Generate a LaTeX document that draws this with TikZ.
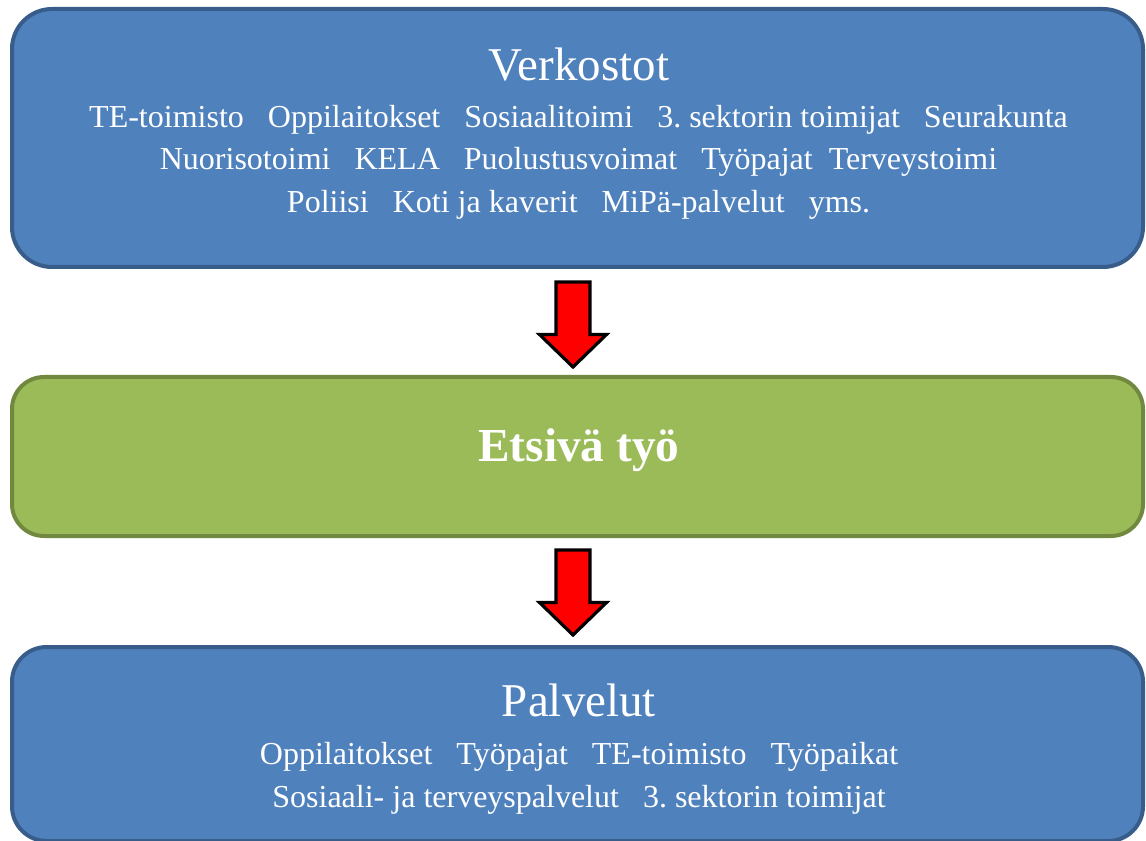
\documentclass[tikz,border=0pt]{standalone}
\usepackage{fontspec}
\setmainfont{Liberation Serif}
\frenchspacing
\usetikzlibrary{calc}
\definecolor{boxblue}{HTML}{4F81BD}
\definecolor{boxblueline}{HTML}{385D8A}
\definecolor{boxgreen}{HTML}{9BBB59}
\definecolor{boxgreenline}{HTML}{71893F}
\tikzset{
  bluebox/.style={draw=boxblueline, fill=boxblue, line width=3pt, rectangle,
    minimum width=848.25pt, inner sep=0pt},
  greenbox/.style={draw=boxgreenline, fill=boxgreen, line width=3pt, rectangle,
    minimum width=848.25pt, inner sep=0pt, rounded corners=24pt},
  titletext/.style={text=white, anchor=base, inner sep=0pt, font=\fontsize{35.25}{40}\selectfont},
  linetext/.style={text=white, anchor=base, inner sep=0pt, font=\fontsize{24}{28}\selectfont},
  blockarrow/.style={draw=black, fill=red, line width=2.4pt, miter limit=10}
}
\begin{document}
\begin{tikzpicture}[x=0.75pt,y=-0.75pt]
\useasboundingbox (0,0) rectangle (1146,841);
% boxes
\node[bluebox, rounded corners=30pt, minimum height=193.5pt] (verk) at (577.5,138) {};
\node[greenbox, minimum height=119.25pt] (ets) at (577.5,456.5) {};
\node[bluebox, rounded corners=26pt, minimum height=145.5pt] (palv) at (577.5,744) {};
% top texts
\node[titletext] (verkT) at (579,81) {Verkostot};
\node[linetext] (verkL1) at (578.5,128) {TE-toimisto~~~Oppilaitokset~~~Sosiaalitoimi~~~3. sektorin toimijat~~~Seurakunta};
\node[linetext] (verkL2) at (578.5,170) {Nuorisotoimi~~~KELA~~~Puolustusvoimat~~~Työpajat~~Terveystoimi};
\node[linetext] (verkL3) at (578.5,212.5) {Poliisi~~~Koti ja kaverit~~~MiPä-palvelut~~~yms.};
% middle
\node[titletext, font=\bfseries\fontsize{35.5}{40}\selectfont] (etsT) at (579,461) {Etsivä työ};
% bottom texts
\node[titletext] (palvT) at (579,716) {Palvelut};
\node[linetext] (palvL1) at (579,764) {Oppilaitokset~~~Työpajat~~~TE-toimisto~~~Työpaikat};
\node[linetext] (palvL2) at (579,807) {Sosiaali- ja terveyspalvelut~~~3. sektorin toimijat};
% block arrows
\coordinate (a1) at ($(verk.south)!0.5!(ets.north) + (-4.5,2.5)$);
\coordinate (a2) at ($(ets.south)!0.5!(palv.north) + (-4.5,1)$);
\foreach \c in {a1,a2}{
  \draw[blockarrow] ($(\c)+(-17,-42.5)$) -- ($(\c)+(17,-42.5)$) -- ($(\c)+(17,10)$)
    -- ($(\c)+(33.5,10)$) -- ($(\c)+(0,42.5)$) -- ($(\c)+(-33.5,10)$)
    -- ($(\c)+(-17,10)$) -- cycle;
}
\end{tikzpicture}
\end{document}
